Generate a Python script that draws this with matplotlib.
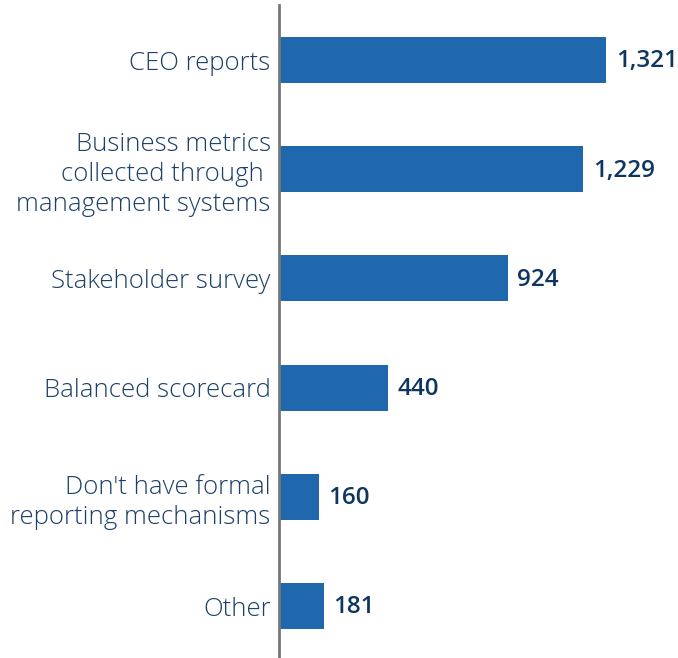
import matplotlib
matplotlib.use('Agg')
import matplotlib.pyplot as plt

# categories and counts, top to bottom
CATEGORIES = ['CEO reports',
              'Business metrics\ncollected through \nmanagement systems',
              'Stakeholder survey',
              'Balanced scorecard',
              "Don't have formal\nreporting mechanisms",
              'Other']
VALUES = [1321, 1229, 924, 440, 160, 181]
VALUE_LABELS = ['1,321', '1,229', '924', '440', '160', '181']

BAR_COLOR = '#1f68ae'
LABEL_COLOR = '#1c4068'
VALUE_COLOR = '#0f3660'


def main():
    plt.rcParams['font.family'] = ['Open Sans', 'DejaVu Sans']
    fig = plt.figure(figsize=(6.78, 6.58), dpi=100)
    ax = fig.add_axes([279 / 678, 0, 1 - 279 / 678, 1 - 5 / 658])

    ypos = list(range(len(CATEGORIES)))
    ax.barh(ypos, VALUES, height=0.42, color=BAR_COLOR)

    for y, v, lab in zip(ypos, VALUES, VALUE_LABELS):
        ax.annotate(lab, (v, y), xytext=(7, -1), textcoords='offset points',
                    va='center', ha='left', fontsize=17.5, fontweight='semibold',
                    color=VALUE_COLOR)

    ax.set_yticks(ypos)
    ax.set_yticklabels(CATEGORIES, fontsize=18.5, color=LABEL_COLOR,
                       linespacing=1.25, fontweight='light')
    ax.tick_params(axis='y', length=0, pad=6)
    ax.set_xticks([])
    ax.set_xlim(0, 1321 * 399 / 327)
    ax.set_ylim(5.476, -0.504)

    for side in ['top', 'right', 'bottom']:
        ax.spines[side].set_visible(False)
    ax.spines['left'].set_color('#777777')
    ax.spines['left'].set_linewidth(2)

    fig.savefig('out.png', dpi=100)


if __name__ == '__main__':
    main()
